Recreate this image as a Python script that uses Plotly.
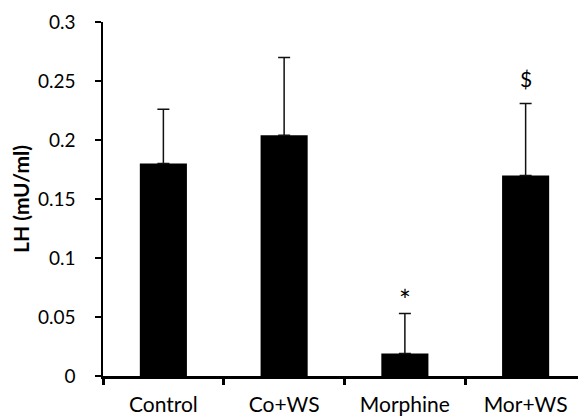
import plotly.graph_objects as go

categories = ["Control", "Co+WS", "Morphine", "Mor+WS"]
lh_mean = [0.180, 0.204, 0.019, 0.170]
lh_err = [0.046, 0.066, 0.034, 0.061]
marks = ["", "", "*", "$"]
y_ticks = [0, 0.05, 0.1, 0.15, 0.2, 0.25, 0.3]
y_tick_text = ["0", "0.05", "0.1", "0.15", "0.2", "0.25", "0.3"]
y_title = "LH (mU/ml)"

FONT = "Lato"

fig = go.Figure()
fig.add_trace(go.Bar(
    x=categories, y=lh_mean, width=0.39,
    marker=dict(color="black", line=dict(width=0)),
    error_y=dict(type="data", array=lh_err, arrayminus=[0]*len(lh_err),
                 symmetric=False, color="#111111", thickness=1.5, width=6),
))

for c, m, e, s in zip(categories, lh_mean, lh_err, marks):
    if s:
        fig.add_annotation(x=c, y=m + e, text=s, showarrow=False,
                           yanchor="bottom", yshift=-6 if s == "*" else 10,
                           font=dict(family=FONT, size=28 if s == "*" else 21, color="black"))

# y-axis title as a rotated annotation
fig.add_annotation(xref="paper", yref="paper", x=-0.172, y=0.5, text="<b>" + y_title + "</b>",
                   textangle=-90, showarrow=False, xanchor="center", yanchor="middle",
                   font=dict(family=FONT, size=21, color="black"))

# page body has an 8px margin; margins below compensate so the plot area
# lands at the same pixel positions as the reference
fig.update_layout(
    width=586, height=418,
    margin=dict(l=95, r=8, t=14, b=50),
    paper_bgcolor="white", plot_bgcolor="white",
    showlegend=False,
    font=dict(family=FONT, size=18, color="black"),
    xaxis=dict(
        type="category", tickson="boundaries", ticks="outside", ticklen=6,
        tickwidth=3, tickcolor="black", showline=True, linewidth=3,
        linecolor="black", showgrid=False, zeroline=False, automargin=False,
        tickfont=dict(family=FONT, size=21, color="black"),
        ticklabelstandoff=8,
    ),
    yaxis=dict(
        range=[0, 0.3], tickvals=y_ticks, ticktext=y_tick_text,
        ticks="outside", ticklen=6, tickwidth=1.5, tickcolor="black",
        showline=True, linewidth=1.5, linecolor="black",
        showgrid=False, zeroline=False, automargin=False,
        tickfont=dict(family=FONT, size=19, color="black"),
        ticklabelstandoff=16,
    ),
)

fig.write_html("out.html")
